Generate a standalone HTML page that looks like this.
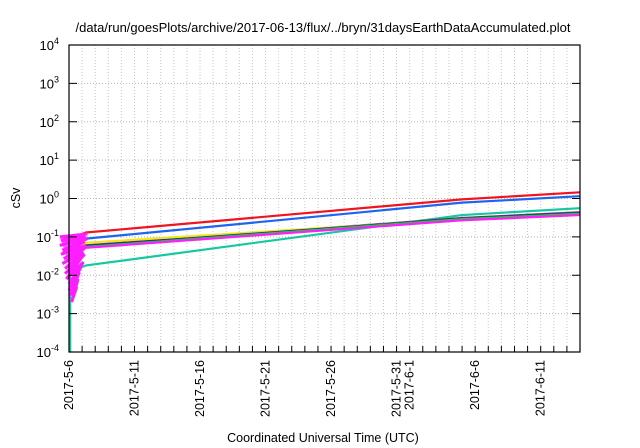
<!DOCTYPE html>
<html><head><meta charset="utf-8"><style>
body{margin:0;background:#fff;}
svg{display:block;font-family:"Liberation Sans",sans-serif;}
</style></head><body>
<svg id="chart" width="640" height="448" viewBox="0 0 640 448">
<text x="323" y="32" text-anchor="middle" font-size="13">/data/run/goesPlots/archive/2017-06-13/flux/../bryn/31daysEarthDataAccumulated.plot</text>
<g id="grid"></g>
<g id="series"></g>
<rect x="69" y="45" width="511" height="307" fill="none" stroke="#000" stroke-width="1.2"/>
<g id="axes"></g>
<text transform="translate(20,198) rotate(-90)" text-anchor="middle" font-size="12.5">cSv</text>
<text x="323" y="442" text-anchor="middle" font-size="12.5">Coordinated Universal Time (UTC)</text>
</svg>
<script>
const yDecades=[-4,-3,-2,-1,0,1,2,3,4];
const xTickDays=[0,5,10,15,20,25,26,31,36];
const xTickLabels=["2017-5-6","2017-5-11","2017-5-16","2017-5-21","2017-5-26","2017-5-31","2017-6-1","2017-6-6","2017-6-11"];
const seriesNames=["red","blue","teal","brown","yellow","darkblue","green","magenta"];
const seriesColors=["#f0141e","#1e64f0","#14c8a0","#8c3c64","#f0e614","#1e1ec8","#28c828","#ff1eff"];
const seriesDays=[1.3,30,39];
const seriesValues=[
 [0.13,0.95,1.45],
 [0.09,0.78,1.15],
 [0.018,0.37,0.56],
 [0.06,0.31,0.44],
 [0.07,0.29,0.42],
 [0.058,0.3,0.42],
 [0.055,0.29,0.4],
 [0.052,0.27,0.37]
];
const spikeDays=[-0.7,1.4,-0.6,1.3,-0.7,1.4,-0.5,1.2,-0.6,1.3,-0.4,1.2,-0.5,1.1,-0.3,1.2,-0.3,1.0,-0.2,1.1,0.0,0.9,0.0,0.8,0.1,0.7,0.2,0.6];
const spikeValues=[0.1,0.12,0.08,0.1,0.06,0.09,0.045,0.075,0.035,0.06,0.027,0.05,0.02,0.04,0.015,0.035,0.011,0.03,0.008,0.022,0.006,0.016,0.004,0.012,0.003,0.008,0.002,0.005];
const NS="http://www.w3.org/2000/svg";
const L=69,R=580,T=45,B=352,DAYS=39;
function xs(d){return L+(R-L)*d/DAYS;}
function ys(v){return B-(B-T)*(Math.log10(v)+4)/8;}
function mk(tag,attrs,parent){const e=document.createElementNS(NS,tag);for(const k in attrs)e.setAttribute(k,attrs[k]);parent.appendChild(e);return e;}
const grid=document.getElementById('grid'),axes=document.getElementById('axes'),ser=document.getElementById('series');
for(let d=1;d<DAYS;d++){
 const g=mk('line',{x1:xs(d),x2:xs(d),y1:T,y2:B,stroke:'#c8c8c8','stroke-dasharray':'1,2','stroke-width':1},grid);
 
 
 const t=mk('line',{x1:xs(d),x2:xs(d),y1:B,y2:B-6,stroke:'#000'},axes);
 
 
}
yDecades.forEach(p=>{
 const y=ys(Math.pow(10,p));
 if(p>-4&&p<4){const g=mk('line',{x1:L,x2:R,y1:y,y2:y,stroke:'#b4b4b4','stroke-dasharray':'1,2'},grid);
 
 }
 const t=mk('line',{x1:L,x2:L+8,y1:y,y2:y,stroke:'#000'},axes);
 
 
 const t2=mk('line',{x1:R,x2:R-8,y1:y,y2:y,stroke:'#000'},axes);
 
 
 const tx=mk('text',{x:L-10,y:y+5,'text-anchor':'end','font-size':13},axes);
 
 
 tx.textContent='10';
 const s=mk('tspan',{dy:-6,'font-size':9},tx);s.textContent=String(p);
});
xTickDays.forEach((d,i)=>{
 const x=xs(d);
 const tx=mk('text',{transform:`translate(${x+4},360) rotate(-90)`,'text-anchor':'end','font-size':12.5},axes);
 
 
 tx.textContent=xTickLabels[i];
});
// teal drop to bottom
const drop=mk('line',{x1:xs(0.1),x2:xs(0.1),y1:ys(0.018),y2:B,stroke:'#14c8a0','stroke-width':2},ser);


seriesValues.forEach((vals,i)=>{
 const pts=seriesDays.map((d,j)=>xs(d)+','+ys(vals[j])).join(' ');
 const start=xs(0.3)+','+ys(vals[0]*0.75)+' ';
 const pl=mk('polyline',{points:start+pts,fill:'none',stroke:seriesColors[i],'stroke-width':2.2},ser);
 
 
});
// spike mass
const sp=spikeDays.map((d,i)=>xs(d)+','+ys(spikeValues[i])).join(' ');
const spk=mk('polyline',{points:sp,fill:'none',stroke:'#ff1eff','stroke-width':3},ser);


const spFill=mk('polygon',{points:sp,fill:'#ff1eff','fill-opacity':0.7,stroke:'none'},ser);


</script>
</body></html>
